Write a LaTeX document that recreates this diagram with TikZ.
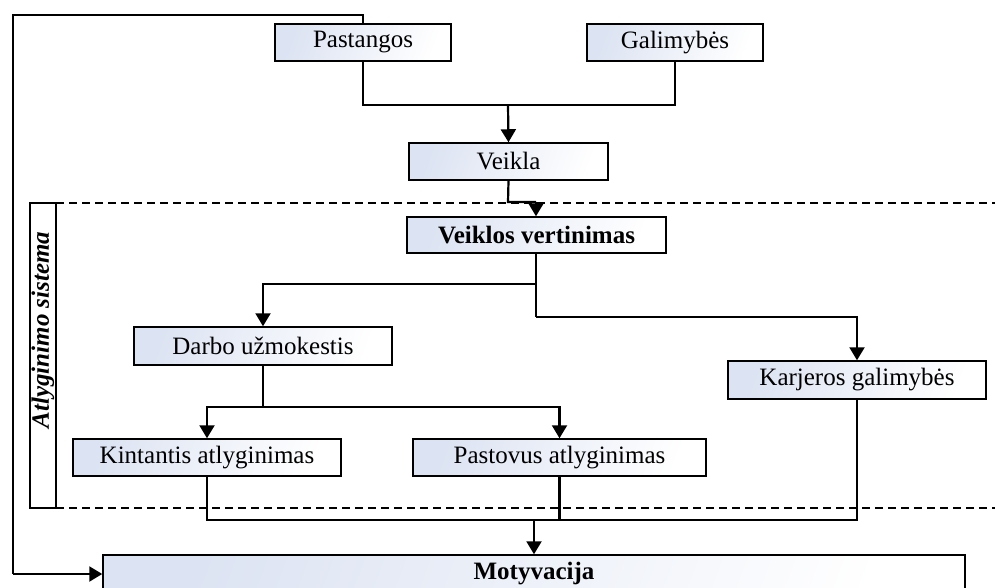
\documentclass[tikz,border=0pt]{standalone}
\usepackage{fontspec}
\setmainfont{Liberation Serif}
\usetikzlibrary{arrows.meta}
\begin{document}
\begin{tikzpicture}[x=1pt,y=-1pt,
  box/.style={draw=black, line width=1.5pt, left color={rgb,255:red,220;green,227;blue,242},
    right color=white, shading angle=70, inner sep=0pt, minimum height=37pt,
    font=\fontsize{25}{30}\selectfont},
  conn/.style={line width=2.2pt},
  arr/.style={conn, -{Triangle[width=15pt,length=13pt]}},
  sep/.style={line width=1.7pt, dash pattern=on 8pt off 5pt}]
\useasboundingbox (0,0) rectangle (995,587);

% boxes
\node[box, minimum width=176pt] (past) at (363,42.5) {Pastangos};
\node[box, minimum width=176pt] (gal) at (675,42.5) {Galimybės};
\node[box, minimum width=199pt] (veik) at (508.5,161.5) {Veikla};
\node[box, minimum width=259pt, minimum height=36pt] (vert) at (536.5,235) {\textbf{Veiklos vertinimas}};
\node[box, minimum width=258pt, minimum height=38pt] (darbo) at (263,346) {Darbo užmokestis};
\node[box, minimum width=258pt, minimum height=38pt] (karj) at (857,380) {Karjeros galimybės};
\node[box, minimum width=268pt] (kint) at (207,457.5) {Kintantis atlyginimas};
\node[box, minimum width=293pt] (past2) at (559.5,457.5) {Pastovus atlyginimas};
\node[box, minimum width=862pt, minimum height=38pt] (motyv) at (534,574) {\textbf{Motyvacija}};

% remuneration system frame
\draw[line width=1.5pt] (30,203) rectangle (56,508);
\node[rotate=90, font=\fontsize{25}{30}\selectfont\bfseries\itshape] (sist) at (43,330) {Atlyginimo sistema};
\draw[sep] (30,203) -- (995,203);
\draw[sep] (30,508) -- (995,508);

% junction points
\coordinate (j1) at (508,105);
\coordinate (j2) at (508,202);
\coordinate (j3) at (536,202);
\coordinate (j4) at (536,284);
\coordinate (j5) at (536,317);
\coordinate (j6) at (263,407);
\coordinate (j7) at (534,520);
\coordinate (fb1) at (13,15);
\coordinate (fb2) at (13,574);

% connectors
\draw[conn] (past.south) |- (j1);
\draw[conn] (gal.south) |- (j1);
\draw[arr] (j1) -- (veik.north);
\draw[conn] (veik.south) -- (j2) -- (j3);
\draw[arr] (j3) -- (vert.north -| j3);
\draw[conn] (vert.south -| j4) -- (j5);
\draw[arr] (j4) -| (darbo.north);
\draw[arr] (j5) -| (karj.north);
\draw[conn] (darbo.south) -- (j6);
\draw[arr] (j6) -| (kint.north);
\draw[arr] (j6) -| (past2.north);
\draw[conn] (kint.south) |- (j7);
\draw[conn] (past2.south) |- (j7);
\draw[conn] (karj.south) |- (j7);
\draw[arr] (j7) -- (motyv.north -| j7);
\draw[conn] (past.north) |- (fb1) -- (fb2);
\draw[arr] (fb2) -- (motyv.west |- fb2);
\end{tikzpicture}
\end{document}
